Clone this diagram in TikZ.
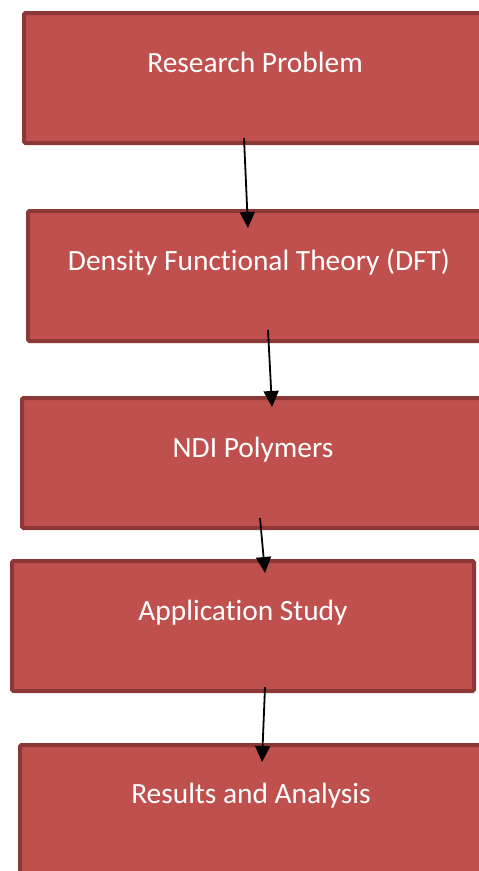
\documentclass[tikz,border=0pt]{standalone}
\usepackage{fontspec}
\setmainfont{Carlito}[Ligatures={NoCommon}]
\usetikzlibrary{arrows.meta,calc}
\definecolor{boxfill}{HTML}{C0504D}
\definecolor{boxline}{HTML}{8C3836}
\tikzset{
  flowbox/.style={draw=boxline, fill=boxfill, line width=4pt, rounded corners=1.5pt,
    minimum width=462pt, minimum height=130pt, inner sep=0pt, outer sep=0pt},
  flowtext/.style={text=white, anchor=base, inner sep=0pt, font=\fontsize{29.4}{35}\selectfont},
  flowarrow/.style={draw=black, line width=1.8pt, -{Triangle[width=15pt,length=16pt]}}
}
\begin{document}
\begin{tikzpicture}[x=1pt,y=-1pt]
\useasboundingbox (0,0) rectangle (479,871);
\clip (0,0) rectangle (479,871);
\node[flowbox] (b1) at (255,78) {};
\node[flowbox] (b2) at (259,276) {};
\node[flowbox] (b3) at (253,463) {};
\node[flowbox] (b4) at (243,626) {};
\node[flowbox] (b5) at (251,810) {};
\node[flowtext] (t1) at ($(b1.north)+(0,59)$) {Research Problem};
\node[flowtext] (t2) at ($(b2.north)+(0,59)$) {Density Functional Theory (DFT)};
\node[flowtext] (t3) at ($(b3.north)+(0,59)$) {NDI Polymers};
\node[flowtext] (t4) at ($(b4.north)+(0,59)$) {Application Study};
\node[flowtext] (t5) at ($(b5.north)+(0,58)$) {Results and Analysis};
\coordinate (a1s) at (244,138);
\coordinate (a1e) at (248,228);
\coordinate (a2s) at (268,330);
\coordinate (a2e) at (272,407);
\coordinate (a3s) at (260,518);
\coordinate (a3e) at (265,573);
\coordinate (a4s) at (265,687);
\coordinate (a4e) at (262,762);
\draw[flowarrow] (a1s) -- (a1e);
\draw[flowarrow] (a2s) -- (a2e);
\draw[flowarrow] (a3s) -- (a3e);
\draw[flowarrow] (a4s) -- (a4e);
\end{tikzpicture}
\end{document}
